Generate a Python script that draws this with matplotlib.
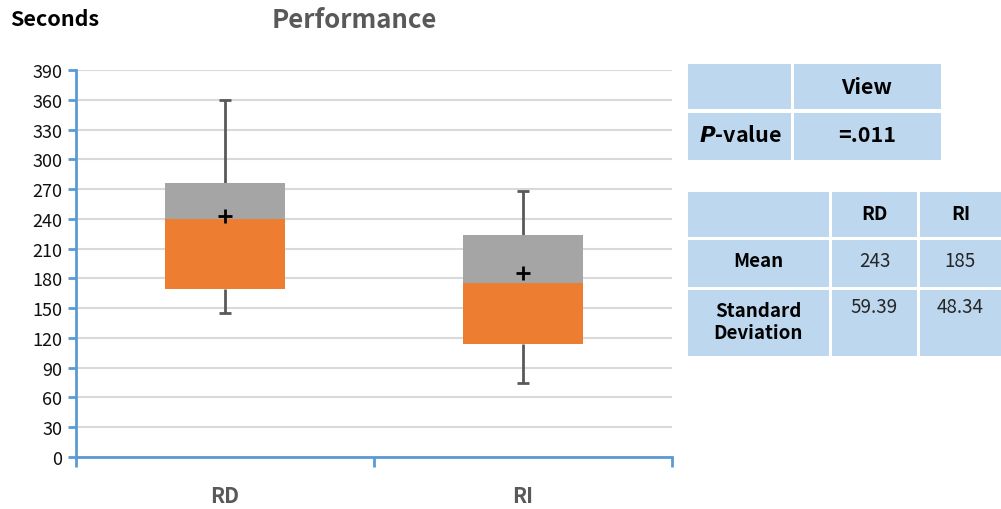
import matplotlib
matplotlib.use("Agg")
import matplotlib.pyplot as plt
from matplotlib.patches import Rectangle

plt.rcParams['font.family'] = ['Noto Sans CJK KR', 'DejaVu Sans']

# data
categories = ['RD', 'RI']
whisker_low = [145, 75]
q1 = [169, 114]
median = [240, 175]
q3 = [276, 224]
whisker_high = [360, 268]
means = [243, 185]
std_devs = ['59.39', '48.34']
p_value = '=.011'

ORANGE = '#ED7D31'
GREY = '#A5A5A5'
AXIS_BLUE = '#5B9BD5'
CELL = '#BDD7EE'

W, H = 1001, 510
fig = plt.figure(figsize=(W / 100, H / 100), dpi=100)

ax = fig.add_axes([76 / W, 1 - 458 / H, (672 - 76) / W, (458 - 71) / H])
x = list(range(len(categories)))
width = 0.4

# lower half of the box (Q1 -> median) and upper half (median -> Q3)
ax.bar(x, [m - a for m, a in zip(median, q1)], width, bottom=q1,
       color=ORANGE, zorder=3)
ax.bar(x, [b - m for b, m in zip(q3, median)], width, bottom=median,
       color=GREY, zorder=3)

# whiskers
for i in x:
    ax.vlines(i, whisker_low[i], q1[i], color='#595959', lw=2, zorder=2)
    ax.vlines(i, q3[i], whisker_high[i], color='#595959', lw=2, zorder=2)
    ax.hlines([whisker_low[i], whisker_high[i]], i - 0.02, i + 0.02,
              color='#595959', lw=2, zorder=2)

ax.scatter(x, means, marker='+', s=110, color='black', linewidths=2, zorder=4)

ax.set_xlim(-0.5, 1.5)
ax.set_ylim(0, 390)
ax.set_yticks(range(0, 391, 30))
ax.set_xticks(x)
ax.set_xticklabels(categories, fontsize=15, fontweight='bold', color='#595959')
ax.set_xticks([-0.5, 0.5, 1.5], minor=True)
ax.tick_params(axis='x', which='major', length=0, pad=20)
ax.tick_params(axis='x', which='minor', length=7, color=AXIS_BLUE, width=2)
ax.tick_params(axis='y', length=6, color=AXIS_BLUE, width=2, labelsize=13,
               pad=4, labelcolor='#111111')
ax.yaxis.grid(True, color='#D9D9D9', lw=1.5, zorder=0)
ax.set_axisbelow(True)
for side in ['top', 'right']:
    ax.spines[side].set_visible(False)
for side in ['left', 'bottom']:
    ax.spines[side].set_color(AXIS_BLUE)
    ax.spines[side].set_linewidth(2)

fig.text(10 / W, 1 - 20 / H, 'Seconds', fontsize=15.5, fontweight='bold',
         va='center', ha='left', color='black')
fig.text(354 / W, 1 - 20 / H, 'Performance', fontsize=18.5, fontweight='bold',
         va='center', ha='center', color='#595959')

# tables drawn on a pixel-space overlay
ov = fig.add_axes([0, 0, 1, 1])
ov.set_xlim(0, W)
ov.set_ylim(H, 0)
ov.axis('off')


def cell(x0, y0, x1, y1):
    ov.add_patch(Rectangle((x0, y0), x1 - x0, y1 - y0, color=CELL, lw=0))


# p-value table
cols1 = [(688, 791), (794, 941)]
rows1 = [(65, 110), (114, 161)]
for r in rows1:
    for c in cols1:
        cell(c[0], r[0], c[1], r[1])
ov.text(867, 88, 'View', fontsize=15.5, fontweight='bold', ha='center', va='center')
ov.text(740, 136, r'$\bfit{P}$' + '-value', fontsize=15.5, fontweight='bold',
        ha='center', va='center')
ov.text(867, 136, p_value, fontsize=15.5, fontweight='bold', ha='center', va='center')

# descriptive table
cols2 = [(688, 829), (832, 917), (920, 1001)]
rows2 = [(193, 238), (241, 288), (291, 357)]
for r in rows2:
    for c in cols2:
        cell(c[0], r[0], c[1], r[1])
for j, name in enumerate(categories):
    cx = (cols2[j + 1][0] + cols2[j + 1][1]) / 2
    ov.text(cx, 215, name, fontsize=13.5, fontweight='bold', ha='center', va='center')
    ov.text(cx, 262, str(means[j]), fontsize=13.5, ha='center', va='center',
            color='#262626')
    ov.text(cx, 308, std_devs[j], fontsize=13.5, ha='center', va='center',
            color='#262626')
ov.text(758, 262, 'Mean', fontsize=13.5, fontweight='bold', ha='center', va='center')
ov.text(758, 323, 'Standard\nDeviation', fontsize=13.5, fontweight='bold',
        ha='center', va='center', linespacing=1.2)

fig.savefig('out.png', dpi=100)
